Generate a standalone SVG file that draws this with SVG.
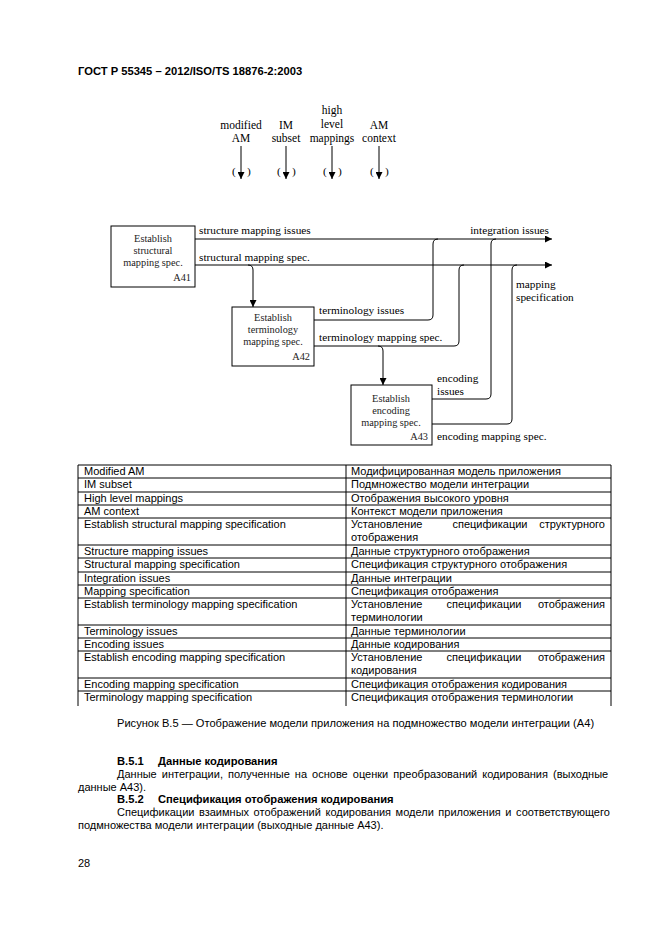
<svg xmlns="http://www.w3.org/2000/svg" width="661" height="936" viewBox="0 0 661 936">
<defs>
<marker id="ah" viewBox="0 0 10 10" refX="10" refY="5" markerWidth="9" markerHeight="7" markerUnits="userSpaceOnUse" orient="auto"><path d="M0,0 L10,5 L0,10 Z" fill="#000"/></marker>
<style>
.d{font-family:"Liberation Serif","Times New Roman",serif;font-size:11.3px;fill:#000}
.i{font-family:"Liberation Serif","Times New Roman",serif;font-size:11.5px;fill:#000}
.b{font-family:"Liberation Serif","Times New Roman",serif;font-size:10.3px;fill:#222}
.s{font-family:"Liberation Sans",Arial,sans-serif;font-size:11px;fill:#000}
.p{font-family:"Liberation Sans",Arial,sans-serif;font-size:11px;fill:#000}
.h{font-family:"Liberation Sans",Arial,sans-serif;font-size:11.2px;font-weight:bold;fill:#000}
.box{fill:#fff;stroke:#000;stroke-width:1}
.c{fill:none;stroke:#000;stroke-width:1}
.t{stroke:#000;stroke-width:1;fill:none}
</style>
</defs>
<rect width="661" height="936" fill="#fff"/>
<text class="h" x="78" y="75">ГОСТ Р 55345 – 2012/ISO/TS 18876-2:2003</text>

<g id="inputs">
<g id="in-modified-am"><text class="i" x="241" y="129" text-anchor="middle">modified</text><text class="i" x="241" y="142" text-anchor="middle">AM</text><line class="c" x1="241" y1="146" x2="241" y2="179" marker-end="url(#ah)"/><text class="d" x="232" y="175">(</text><text class="d" x="247" y="175">)</text></g>
<g id="in-im-subset"><text class="i" x="286" y="129" text-anchor="middle">IM</text><text class="i" x="286" y="142" text-anchor="middle">subset</text><line class="c" x1="286" y1="146" x2="286" y2="179" marker-end="url(#ah)"/><text class="d" x="277" y="175">(</text><text class="d" x="292" y="175">)</text></g>
<g id="in-high-level"><text class="i" x="332" y="114" text-anchor="middle">high</text><text class="i" x="332" y="128" text-anchor="middle">level</text><text class="i" x="332" y="142" text-anchor="middle">mappings</text><line class="c" x1="332" y1="146" x2="332" y2="179" marker-end="url(#ah)"/><text class="d" x="323" y="175">(</text><text class="d" x="338" y="175">)</text></g>
<g id="in-am-context"><text class="i" x="379" y="129" text-anchor="middle">AM</text><text class="i" x="379" y="142" text-anchor="middle">context</text><line class="c" x1="379" y1="146" x2="379" y2="179" marker-end="url(#ah)"/><text class="d" x="370" y="175">(</text><text class="d" x="385" y="175">)</text></g>
</g>

<g id="connectors">
<line class="c" x1="195" y1="239" x2="552" y2="239" marker-end="url(#ah)"/>
<line class="c" x1="195" y1="265" x2="552" y2="265" marker-end="url(#ah)"/>
<path class="c" d="M248,265 Q253,265 253,270 V307" marker-end="url(#ah)"/>
<path class="c" d="M314,320 H428 Q433,320 433,315 V244 Q433,239 438,239"/>
<path class="c" d="M314,346 H454 Q459,346 459,341 V270 Q459,265 464,265"/>
<path class="c" d="M378,346 Q383,346 383,351 V385" marker-end="url(#ah)"/>
<path class="c" d="M432,399 H486 Q491,399 491,394 V244 Q491,239 496,239"/>
<path class="c" d="M432,424 H507 Q512,424 512,419 V270 Q512,265 517,265"/>
<text class="d" x="199" y="234">structure mapping issues</text>
<text class="d" x="549" y="234" text-anchor="end">integration issues</text>
<text class="d" x="199" y="261">structural mapping spec.</text>
<text class="d" x="516" y="288">mapping</text>
<text class="d" x="516" y="301">specification</text>
<text class="d" x="319" y="314">terminology issues</text>
<text class="d" x="319" y="341">terminology mapping spec.</text>
<text class="d" x="437" y="382">encoding</text>
<text class="d" x="437" y="395">issues</text>
<text class="d" x="437" y="440">encoding mapping spec.</text>
</g>

<g id="A41"><rect class="box" x="111" y="226" width="84" height="61"/><text class="b" x="153" y="242" text-anchor="middle">Establish</text><text class="b" x="153" y="254" text-anchor="middle">structural</text><text class="b" x="153" y="266" text-anchor="middle">mapping spec.</text><text class="b" x="191" y="281" text-anchor="end">A41</text></g>
<g id="A42"><rect class="box" x="232" y="307" width="82" height="59"/><text class="b" x="273" y="321" text-anchor="middle">Establish</text><text class="b" x="273" y="333" text-anchor="middle">terminology</text><text class="b" x="273" y="345" text-anchor="middle">mapping spec.</text><text class="b" x="310" y="360" text-anchor="end">A42</text></g>
<g id="A43"><rect class="box" x="351" y="385" width="81" height="60"/><text class="b" x="391" y="402" text-anchor="middle">Establish</text><text class="b" x="391" y="414" text-anchor="middle">encoding</text><text class="b" x="391" y="426" text-anchor="middle">mapping spec.</text><text class="b" x="428" y="440" text-anchor="end">A43</text></g>

<g id="table">
<path class="t" d="M78,465 H611 M78,478 H611 M78,492 H611 M78,505 H611 M78,518 H611 M78,545 H611 M78,558 H611 M78,572 H611 M78,585 H611 M78,598 H611 M78,625 H611 M78,638 H611 M78,651 H611 M78,678 H611 M78,691 H611 M78,465 V706 M346,465 V706 M611,465 V706"/>
<text class="s" x="84" y="475">Modified AM</text><text class="s" x="351" y="475">Модифицированная модель приложения</text>
<text class="s" x="84" y="488">IM subset</text><text class="s" x="351" y="488">Подмножество модели интеграции</text>
<text class="s" x="84" y="502">High level mappings</text><text class="s" x="351" y="502">Отображения высокого уровня</text>
<text class="s" x="84" y="515">AM context</text><text class="s" x="351" y="515">Контекст модели приложения</text>
<text class="s" x="84" y="528">Establish structural mapping specification</text><text class="s" x="351" y="528">Установление</text><text class="s" x="490" y="528" text-anchor="middle">спецификации</text><text class="s" x="605" y="528" text-anchor="end">структурного</text><text class="s" x="351" y="541">отображения</text>
<text class="s" x="84" y="555">Structure mapping issues</text><text class="s" x="351" y="555">Данные структурного отображения</text>
<text class="s" x="84" y="568">Structural mapping specification</text><text class="s" x="351" y="568">Спецификация структурного отображения</text>
<text class="s" x="84" y="582">Integration issues</text><text class="s" x="351" y="582">Данные интеграции</text>
<text class="s" x="84" y="595">Mapping specification</text><text class="s" x="351" y="595">Спецификация отображения</text>
<text class="s" x="84" y="608">Establish terminology mapping specification</text><text class="s" x="351" y="608">Установление</text><text class="s" x="484" y="608" text-anchor="middle">спецификации</text><text class="s" x="605" y="608" text-anchor="end">отображения</text><text class="s" x="351" y="621">терминологии</text>
<text class="s" x="84" y="635">Terminology issues</text><text class="s" x="351" y="635">Данные терминологии</text>
<text class="s" x="84" y="648">Encoding issues</text><text class="s" x="351" y="648">Данные кодирования</text>
<text class="s" x="84" y="661">Establish encoding mapping specification</text><text class="s" x="351" y="661">Установление</text><text class="s" x="484" y="661" text-anchor="middle">спецификации</text><text class="s" x="605" y="661" text-anchor="end">отображения</text><text class="s" x="351" y="674">кодирования</text>
<text class="s" x="84" y="688">Encoding mapping specification</text><text class="s" x="351" y="688">Спецификация отображения кодирования</text>
<text class="s" x="84" y="701">Terminology mapping specification</text><text class="s" x="351" y="701">Спецификация отображения терминологии</text>
</g>

<text class="s" x="117" y="727" style="font-size:11.1px">Рисунок В.5 — Отображение модели приложения на подмножество модели интеграции (А4)</text>
<text class="h" x="117" y="765">В.5.1</text><text class="h" x="158" y="765">Данные кодирования</text>
<text class="p" x="117" y="778" style="word-spacing:2px">Данные интеграции, полученные на основе оценки преобразований кодирования (выходные</text>
<text class="p" x="78" y="791">данные А43).</text>
<text class="h" x="117" y="803">В.5.2</text><text class="h" x="158" y="803">Спецификация отображения кодирования</text>
<text class="p" x="117" y="816" style="word-spacing:1.5px">Спецификации взаимных отображений кодирования модели приложения и соответствующего</text>
<text class="p" x="78" y="829">подмножества модели интеграции (выходные данные А43).</text>
<text class="s" x="78" y="867">28</text>
</svg>
